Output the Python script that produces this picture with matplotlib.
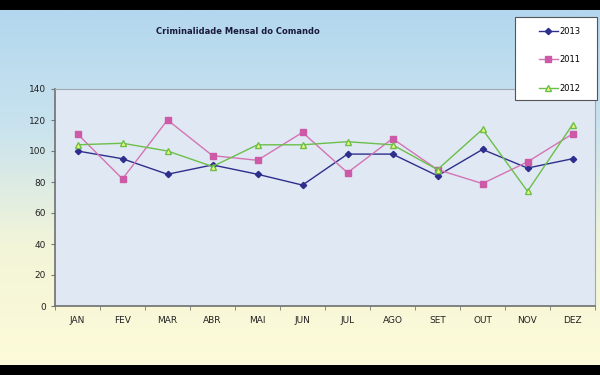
import numpy as np
import matplotlib
matplotlib.use('Agg')
from matplotlib import pyplot as plt
from matplotlib.colors import LinearSegmentedColormap
from matplotlib.patches import Rectangle

meses = ['JAN', 'FEV', 'MAR', 'ABR', 'MAI', 'JUN', 'JUL', 'AGO', 'SET', 'OUT', 'NOV', 'DEZ']
v2013 = [100, 95, 85, 91, 85, 78, 98, 98, 84, 101, 89, 95]
v2011 = [111, 82, 120, 97, 94, 112, 86, 108, 88, 79, 93, 111]
v2012 = [104, 105, 100, 90, 104, 104, 106, 104, 88, 114, 74, 117]

fig = plt.figure(figsize=(6, 3.75), dpi=100)
fig.patch.set_facecolor('black')

# fundo em degradê (azul em cima, amarelo em baixo)
bg = fig.add_axes([0, 10/375, 1, 355/375])
cmap = LinearSegmentedColormap.from_list('bg', ['#b3d7ef', '#c9e3ee', '#f3f5d8', '#fdfbd9'])
grad = np.linspace(0, 1, 256).reshape(-1, 1)
bg.imshow(grad, aspect='auto', cmap=cmap, extent=[0, 1, 0, 1])
bg.axis('off')

ax = fig.add_axes([55/600, (375-306)/375, 540/600, 217/375])
ax.set_facecolor('#dfe8f3')
x = np.arange(len(meses))
l1, = ax.plot(x, v2013, color='#2e2f8c', marker='D', markersize=3.2, lw=1.0, label='2013')
l2, = ax.plot(x, v2011, color='#d474b4', marker='s', markersize=4.5, lw=1.0,
              markerfacecolor='#cc5aa6', markeredgecolor='#cc5aa6', label='2011')
l3, = ax.plot(x, v2012, color='#6cbf4a', marker='^', markersize=4.8, lw=1.0,
              markerfacecolor='#f2f77a', markeredgecolor='#6cbf4a', label='2012')

ax.set_xlim(-0.5, 11.5)
ax.set_ylim(0, 140)
ax.set_yticks(range(0, 141, 20))
ax.set_xticks(x)
ax.set_xticklabels(meses)
ax.set_xticks(np.arange(-0.5, 12, 1), minor=True)
ax.tick_params(axis='x', which='major', length=0, pad=7, labelsize=6.5, labelcolor='#222222')
ax.tick_params(axis='x', which='minor', length=3, direction='out', color='#777777')
ax.tick_params(axis='y', length=3, direction='out', labelsize=6.5, labelcolor='#222222', color='#777777')
for s in ['left', 'bottom']:
    ax.spines[s].set_color('#6f6f6f')
    ax.spines[s].set_linewidth(1.2)
for s in ['top', 'right']:
    ax.spines[s].set_color('#a0a8b0')
    ax.spines[s].set_linewidth(0.8)

fig.text(238/600, 1 - 31/375, 'Criminalidade Mensal do Comando', ha='center', va='center',
         fontsize=6, fontweight='bold', color='#1a1a3a')

# caixa da legenda
fig.patches.append(Rectangle((515/600, 1 - 100/375), 82/600, 83/375, transform=fig.transFigure,
                             facecolor='white', edgecolor='#555555', lw=0.8, zorder=2))
leg = fig.legend(handles=[l1, l2, l3], loc='upper left', bbox_to_anchor=(536/600, 1 - 24/375),
                 frameon=False, fontsize=6, labelspacing=2.35,
                 handlelength=2.3, handletextpad=0.2, borderpad=0.3, borderaxespad=0)
leg.set_zorder(3)

fig.savefig('out.png', dpi=100, facecolor=fig.get_facecolor())
